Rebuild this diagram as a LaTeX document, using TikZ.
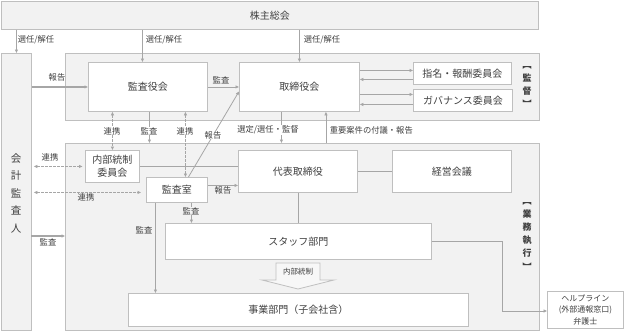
\documentclass[tikz,border=0pt]{standalone}
\usepackage{fontspec}
\setmainfont{Noto Sans CJK JP}
\usetikzlibrary{arrows.meta,calc}
\definecolor{txt}{HTML}{404040}
\definecolor{ln}{HTML}{A6A6A6}
\definecolor{bd}{HTML}{BFBFBF}
\definecolor{rg}{HTML}{F2F2F2}
\begin{document}
\begin{tikzpicture}[x=1pt,y=-1pt,
  region/.style={draw=bd, fill=rg, line width=0.9pt, inner sep=0pt, anchor=north west},
  box/.style={draw=bd, fill=white, line width=0.9pt, text=txt, font=\fontsize{10}{13}\selectfont, inner sep=0pt, align=center, anchor=north west},
  tip/.style={Triangle[length=3.5pt,width=3pt]},
  arr/.style={draw=ln, line width=0.8pt, -{Triangle[length=3.5pt,width=3pt]}},
  darr/.style={draw=ln, line width=0.8pt, dash pattern=on 2.5pt off 1.5pt, {Triangle[length=3.5pt,width=3pt]}-{Triangle[length=3.5pt,width=3pt]}},
  plain/.style={draw=ln, line width=0.8pt},
  lbl/.style={text=txt, font=\fontsize{8.3}{10}\selectfont, inner sep=0.6pt},
  vlbl/.style={text=txt, font=\bfseries\fontsize{9}{12.8}\selectfont, align=center, inner sep=0pt},
]
\useasboundingbox (0,0) rectangle (626,332);
\fill[white] (0,0) rectangle (626,332);

% regions
\node[region, minimum width=537pt, minimum height=28pt, text=txt, font=\fontsize{10}{12}\selectfont] (kabu) at (1,1) {株主総会};
\node[region, minimum width=30pt, minimum height=277pt] (kaikei) at (1,53) {};
\node[region, minimum width=474pt, minimum height=67pt] (kantoku) at (65,53) {};
\node[region, minimum width=474pt, minimum height=187pt] (gyomu) at (65,143) {};

% boxes
\node[box, minimum width=119pt, minimum height=49pt] (kansa) at (88,62) {監査役会};
\node[box, minimum width=120pt, minimum height=49pt] (tori) at (239,62) {取締役会};
\node[box, minimum width=98pt, minimum height=22pt] (shimei) at (413,62) {指名・報酬委員会};
\node[box, minimum width=99pt, minimum height=22pt] (gov) at (413,89) {ガバナンス委員会};
\node[box, minimum width=54pt, minimum height=32pt] (naibu) at (85,150) {内部統制\\委員会};
\node[box, minimum width=61pt, minimum height=25pt] (shitsu) at (146,177) {監査室};
\node[box, minimum width=119pt, minimum height=42pt] (daihyo) at (238,150) {代表取締役};
\node[box, minimum width=119pt, minimum height=42pt] (keiei) at (392,150) {経営会議};
\node[box, minimum width=266pt, minimum height=36pt] (staff) at (165,223) {スタッフ部門};
\node[box, minimum width=340pt, minimum height=33pt] (jigyo) at (128,293) {事業部門（子会社含）};
\node[box, minimum width=76pt, minimum height=37pt, font=\fontsize{8}{11.5}\selectfont] (help) at (547,291) {ヘルプライン\\(外部通報窓口)\\弁護士};

% vertical labels
\node[text=txt, font=\fontsize{10.5}{17.5}\selectfont, align=center, inner sep=0pt] (kaikeit) at (16,193) {会\\計\\監\\査\\人};
\node[vlbl] (kantokut) at (527,87) {︻\\監\\督\\︼};
\node[vlbl, font=\bfseries\fontsize{9}{13.2}\selectfont] (gyomut) at (527,236) {︻\\業\\務\\執\\行\\︼};

% from 株主総会
\draw[arr] (kaikei.north |- kabu.south) -- (kaikei.north);
\node[lbl, anchor=west] (l1) at (17,40) {選任/解任};
\coordinate (c2) at ([xshift=-5.5pt]kansa.north);
\draw[arr] (c2 |- kabu.south) -- (c2);
\node[lbl, anchor=west] (l2) at (145,40) {選任/解任};
\draw[arr] (tori.north |- kabu.south) -- (tori.north);
\node[lbl, anchor=west] (l3) at (303,40) {選任/解任};

% 監督 area
\draw[arr, line width=1.2pt] (kansa.west -| kaikei.east) -- (kansa.west);
\node[lbl] (l4) at (57,77) {報告};
\draw[arr] (kansa.east) -- (tori.west);
\node[lbl] (l5) at (221,80) {監査};

\coordinate (a1) at ([yshift=16.5pt]tori.east);
\coordinate (a2) at ([yshift=7.5pt]tori.east);
\coordinate (a3) at ([yshift=-7.5pt]tori.east);
\coordinate (a4) at ([yshift=-17.5pt]tori.east);
\draw[arr] (a1) -- (a1 -| shimei.west);
\draw[arr] (a2 -| shimei.west) -- (a2);
\draw[arr] (a3) -- (a3 -| gov.west);
\draw[arr] (a4 -| gov.west) -- (a4);

% between areas
\draw[darr] (naibu.north |- kansa.south) -- (naibu.north);
\node[lbl, fill=white] (l6) at (112,131) {連携};
\coordinate (b1) at ([xshift=1.5pt]kansa.south);
\draw[arr] (b1) -- (b1 |- gyomu.north);
\node[lbl, fill=white] (l7) at (149,131) {監査};
\coordinate (d1) at ([xshift=8.5pt]shitsu.north);
\draw[darr] (d1 |- kansa.south) -- (d1);
\node[lbl, fill=white] (l8) at (185,131) {連携};
\coordinate (r1) at ([xshift=11.5pt]shitsu.north);
\coordinate (r2) at ([yshift=-4.5pt]tori.west);
\draw[arr] (r1) -- (r2);
\node[lbl, fill=white] (l9) at (213,135) {報告};
\coordinate (s1) at ([xshift=-18pt]tori.south);
\draw[arr] (s1) -- (s1 |- gyomu.north);
\node[lbl, fill=white] (l10) at (268,130) {選定/選任・監督};
\coordinate (s2) at ([xshift=28pt]daihyo.north);
\draw[arr] (s2 |- gyomu.north) -- (s2 |- tori.south);
\node[lbl, anchor=west] (l11) at (329,130) {重要案件の付議・報告};

% 会計監査人 links
\draw[darr, shorten <=2pt, shorten >=2.5pt] (naibu.west -| kaikei.east) -- (naibu.west);
\node[lbl] (l12) at (50,157) {連携};
\coordinate (k1) at ([yshift=-2.5pt]shitsu.west);
\draw[darr, shorten <=2pt, shorten >=5pt] (k1 -| kaikei.east) -- (k1);
\node[lbl] (l13) at (86,197) {連携};
\coordinate (k2) at (31,236);
\draw[arr, line width=1.2pt] (k2) -- (k2 -| gyomu.west);
\node[lbl] (l14) at (48,242) {監査};

% 業務執行 area
\draw[plain] (naibu.east) -- (naibu.east -| daihyo.west);
\draw[plain] (daihyo.east) -- (keiei.west);
\draw[plain] (daihyo.south) -- (daihyo.south |- staff.north);
\coordinate (h1) at ([yshift=4.5pt]shitsu.east);
\draw[arr] (h1) -- (h1 -| daihyo.west);
\node[lbl] (l15) at (223,190.5) {報告};
\coordinate (m1) at ([xshift=14.5pt]shitsu.south);
\draw[arr] (m1) -- (m1 |- staff.north);
\node[lbl, fill=rg] (l16) at (191,211) {監査};
\coordinate (m2) at ([xshift=-21.5pt]shitsu.south);
\draw[arr] (m2) -- (m2 |- jigyo.north);
\node[lbl] (l17) at (144,230) {監査};

% 内部統制 block arrow
\draw[draw=bd, fill=rg!60!white, line width=0.8pt] (276,263) -- (320,263) -- (320,280) -- (334,280) -- (298,289) -- (262,280) -- (276,280) -- cycle;
\node[lbl, font=\fontsize{7.5}{9}\selectfont] (l18) at (298,271.5) {内部統制};

% to helpline
\coordinate (t1) at (502,311);
\draw[arr] (staff.east) -| (t1) -- (t1 -| help.west);
\end{tikzpicture}
\end{document}
